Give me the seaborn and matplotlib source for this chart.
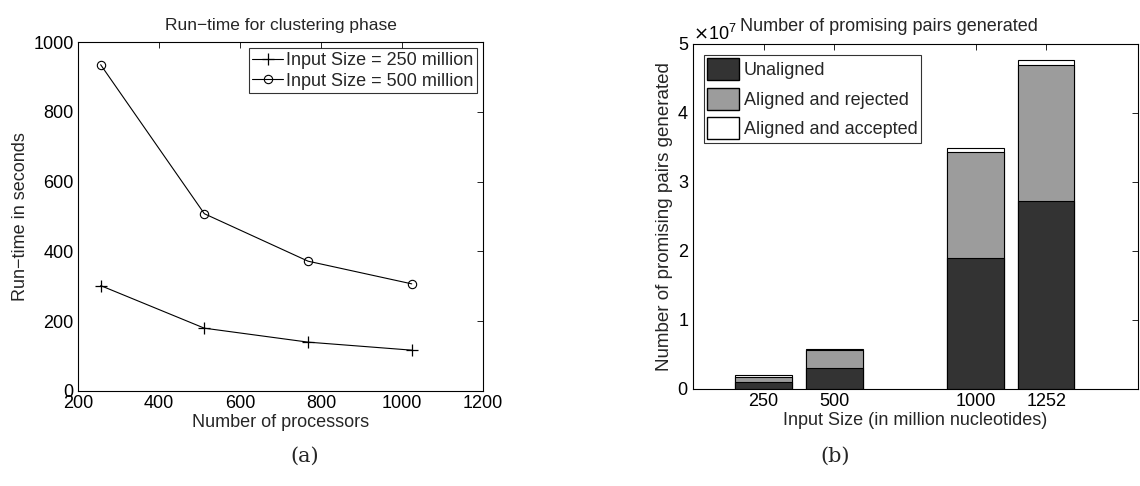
import numpy as np
import pandas as pd
import matplotlib
matplotlib.use("Agg")
import matplotlib.pyplot as plt
import seaborn as sns
from matplotlib.patches import Patch
from matplotlib.ticker import ScalarFormatter

# Panel (a): run-time for clustering phase
processors = [256, 512, 768, 1024]
runtime_250 = [302, 180, 140, 117]
runtime_500 = [935, 508, 372, 307]

# Panel (b): promising pairs generated
input_sizes = ["250", "500", "1000", "1252"]
bar_pos = [1, 2, 4, 5]
unaligned = [0.10e7, 0.30e7, 1.90e7, 2.73e7]
aligned_rejected = [0.07e7, 0.26e7, 1.53e7, 1.97e7]
aligned_accepted = [0.03e7, 0.02e7, 0.06e7, 0.06e7]

sns.set_theme(style="white")
plt.rcParams['font.family'] = ['Liberation Sans', 'DejaVu Sans']
plt.rcParams['xtick.direction'] = 'in'
plt.rcParams['ytick.direction'] = 'in'
plt.rcParams['axes.edgecolor'] = 'black'
plt.rcParams['axes.linewidth'] = 0.8

FS = 13

fig = plt.figure(figsize=(11.4, 4.86), dpi=100)
ax1 = fig.add_axes([0.0684, 0.1955, 0.3553, 0.718])
ax2 = fig.add_axes([0.6079, 0.1996, 0.3903, 0.7100])

# ---- (a) line chart
sns.lineplot(x=processors, y=runtime_250, ax=ax1, color='black', marker='+',
             markersize=8, markeredgecolor='black', markeredgewidth=0.9,
             linewidth=0.8, label='Input Size = 250 million')
sns.lineplot(x=processors, y=runtime_500, ax=ax1, color='black', marker='o',
             markersize=6, markerfacecolor='none', markeredgecolor='black',
             markeredgewidth=0.8, linewidth=0.8, label='Input Size = 500 million')
ax1.set_xlim(200, 1200)
ax1.set_ylim(0, 1000)
ax1.set_xticks(range(200, 1201, 200))
ax1.set_yticks(range(0, 1001, 200))
ax1.tick_params(labelsize=FS, top=True, right=True, length=4, width=0.6,
                colors='black', pad=3)
ax1.set_xlabel("Number of processors", fontsize=FS, labelpad=1)
ax1.set_ylabel("Run\u2212time in seconds", fontsize=FS, labelpad=3)
ax1.set_title("Run\u2212time for clustering phase", fontsize=12.5, pad=9)
leg1 = ax1.legend(loc='upper right', fontsize=FS, frameon=True, fancybox=False,
                  edgecolor='black', handlelength=1.7, handletextpad=0.15,
                  borderpad=0.2, labelspacing=0.2, borderaxespad=0.35)
leg1.get_frame().set_linewidth(0.8)

# ---- (b) stacked bars
df = pd.DataFrame({
    'pos': bar_pos,
    'unaligned': unaligned,
    'rejected': aligned_rejected,
    'accepted': aligned_accepted,
})
df['top_rejected'] = df['unaligned'] + df['rejected']
df['top_accepted'] = df['top_rejected'] + df['accepted']

layers = [('top_accepted', 'white'), ('top_rejected', '#9c9c9c'), ('unaligned', '#333333')]
for col, color in layers:
    sns.barplot(data=df, x='pos', y=col, ax=ax2, native_scale=True, width=0.8,
                color=color, edgecolor='black', linewidth=0.8, saturation=1)

ax2.set_xlim(0, 6.3)
ax2.set_ylim(0, 5e7)
ax2.set_xticks(bar_pos)
ax2.set_xticklabels(input_sizes)
ax2.set_yticks(np.arange(0, 5.01e7, 1e7))
fmt = ScalarFormatter(useMathText=True)
fmt.set_powerlimits((0, 0))
ax2.yaxis.set_major_formatter(fmt)
ax2.yaxis.get_offset_text().set_fontsize(FS)
ax2.tick_params(labelsize=FS, top=True, right=True, length=4, width=0.6,
                colors='black', pad=3)
ax2.set_xlabel("Input Size (in million nucleotides)", fontsize=FS, labelpad=1)
ax2.set_ylabel("Number of promising pairs generated", fontsize=13.5, labelpad=3)
ax2.set_title("Number of promising pairs generated", fontsize=FS, pad=9, x=0.44)

handles = [Patch(facecolor='#333333', edgecolor='black', label='Unaligned'),
           Patch(facecolor='#9c9c9c', edgecolor='black', label='Aligned and rejected'),
           Patch(facecolor='white', edgecolor='black', label='Aligned and accepted')]
leg2 = ax2.legend(handles=handles, loc='upper left', fontsize=FS, frameon=True,
                  fancybox=False, edgecolor='black', handlelength=1.75,
                  handleheight=1.5, handletextpad=0.25, borderpad=0.2,
                  labelspacing=0.4, borderaxespad=0.6)
leg2.get_frame().set_linewidth(0.8)

for ax in (ax1, ax2):
    for sp in ax.spines.values():
        sp.set_visible(True)
        sp.set_color('black')

# captions
fig.text(0.2675, 0.062, "(a)", fontsize=15, family='DejaVu Serif', ha='center', va='center')
fig.text(0.733, 0.062, "(b)", fontsize=15, family='DejaVu Serif', ha='center', va='center')

fig.savefig("out.png", dpi=100)
